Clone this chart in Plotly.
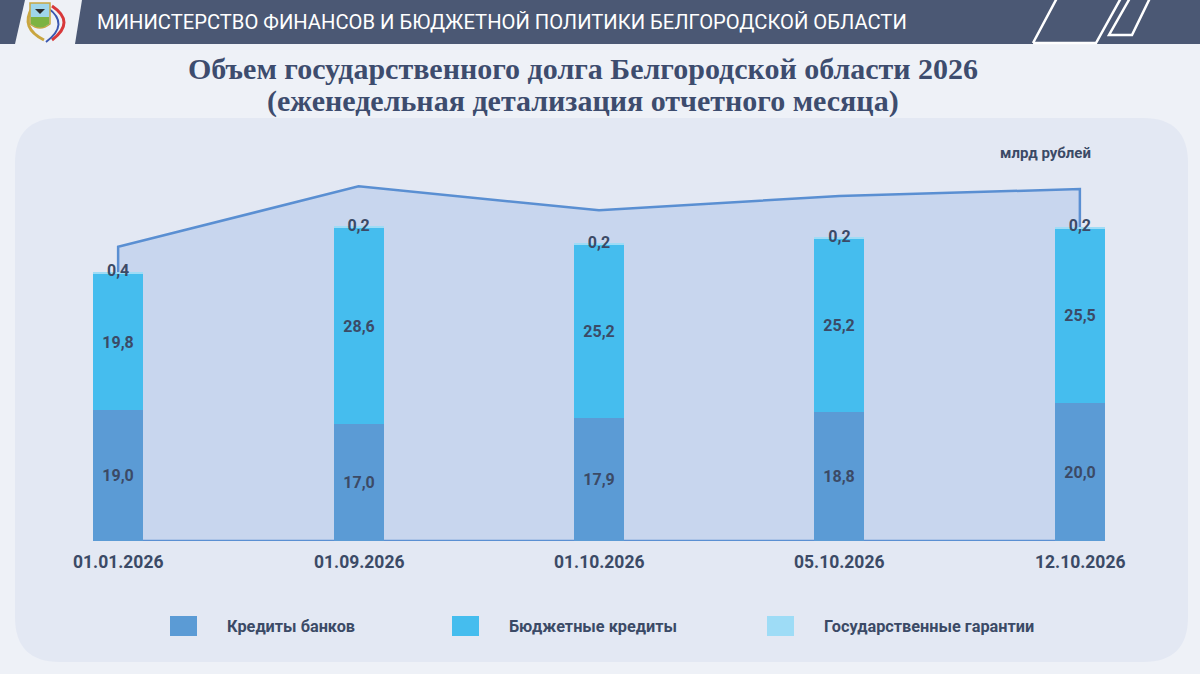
import plotly.graph_objects as go

# ---------------- data ----------------
dates = ["01.01.2026", "01.09.2026", "01.10.2026", "05.10.2026", "12.10.2026"]
bank_credits = [19.0, 17.0, 17.9, 18.8, 20.0]
budget_credits = [19.8, 28.6, 25.2, 25.2, 25.5]
state_guarantees = [0.4, 0.2, 0.2, 0.2, 0.2]
area_outline = [42.9, 51.7, 48.2, 50.3, 51.3]   # decorative background area
series_names = ["Кредиты банков", "Бюджетные кредиты", "Государственные гарантии"]
title_lines = ["Объем государственного долга Белгородской области 2026",
               "(еженедельная детализация отчетного месяца)"]

# ---------------- styles ----------------
W, H = 1200, 674
C_BANK = "#5b9bd5"
C_BUDGET = "#45bdee"
C_GUAR = "#9edcf6"
C_AREA = "#c8d6ee"
C_AREA_LINE = "#5a8fd2"
C_TEXT = "#3b4a66"
C_TITLE = "#3d4c6e"
C_PAGE = "#eef1f7"
C_PANEL = "#e3e8f3"
C_HEADER = "#4b5874"
LABEL_FONT = "Roboto, Arial, sans-serif"


def X(px):
    return px / W


def Y(py):
    return 1 - py / H


def fmt(v):
    return f"{v:.1f}".replace(".", ",")


idx = list(range(len(dates)))
totals = [a + b + c for a, b, c in zip(bank_credits, budget_credits, state_guarantees)]

fig = go.Figure()

# background area (drawn on base axes so that bars overlay it)
ax = [idx[0]] + idx + [idx[-1], idx[0]]
ay = [0] + area_outline + [0, 0]
fig.add_trace(go.Scatter(
    x=ax, y=ay, mode="lines", fill="toself", fillcolor=C_AREA,
    line=dict(color=C_AREA_LINE, width=2.5), hoverinfo="skip", showlegend=False,
    xaxis="x", yaxis="y",
))

bar_w = 0.208
for vals, col, name, show_text in [
    (bank_credits, C_BANK, series_names[0], True),
    (budget_credits, C_BUDGET, series_names[1], True),
    (state_guarantees, C_GUAR, series_names[2], False),
]:
    fig.add_trace(go.Bar(
        x=idx, y=vals, name=name, marker=dict(color=col, line=dict(width=0)),
        width=bar_w,
        text=[fmt(v) for v in vals] if show_text else None,
        textposition="inside" if show_text else "none",
        insidetextanchor="middle", textangle=0, constraintext="none",
        textfont=dict(family=LABEL_FONT, size=16, color=C_TEXT, weight="bold"),
        xaxis="x2", yaxis="y2", showlegend=False,
    ))

# guarantee labels at the top of each bar
fig.add_trace(go.Scatter(
    x=idx, y=totals, mode="text", text=[fmt(v) for v in state_guarantees],
    textposition="middle center",
    textfont=dict(family=LABEL_FONT, size=16, color=C_TEXT, weight="bold"),
    xaxis="x2", yaxis="y2", showlegend=False, cliponaxis=False, hoverinfo="skip",
))

x_dom = [X(46), X(1152)]
y_dom = [Y(541), Y(129.4)]
xr = [-0.3, 4.3]
yr = [0, 60]

shapes = []
# rounded panel
r = 45
x0, x1, y0, y1 = 15, 1188, 118, 662


def P(px, py):
    return f"{X(px):.5f},{Y(py):.5f}"


panel_path = (
    f"M {P(x0 + r, y0)} L {P(x1 - r, y0)} Q {P(x1, y0)} {P(x1, y0 + r)} "
    f"L {P(x1, y1 - r)} Q {P(x1, y1)} {P(x1 - r, y1)} "
    f"L {P(x0 + r, y1)} Q {P(x0, y1)} {P(x0, y1 - r)} "
    f"L {P(x0, y0 + r)} Q {P(x0, y0)} {P(x0 + r, y0)} Z"
)
shapes.append(dict(type="path", path=panel_path, xref="paper", yref="paper",
                   fillcolor=C_PANEL, line=dict(width=0), layer="below"))
# header bar
shapes.append(dict(type="rect", xref="paper", yref="paper", x0=0, x1=1, y0=Y(44), y1=1,
                   fillcolor=C_HEADER, line=dict(width=0), layer="below"))
# light logo block
shapes.append(dict(type="path", xref="paper", yref="paper",
                   path=f"M {P(25, 0)} L {P(82, 0)} L {P(75, 44)} L {P(15, 44)} Z",
                   fillcolor="#eef1f6", line=dict(width=0), layer="above"))
# simplified emblem: coloured arcs + shield
shapes.append(dict(type="path", xref="paper", yref="paper",
                   path=f"M {P(52, 6)} Q {P(76, 22)} {P(52, 40)}",
                   line=dict(color="#d8383a", width=3), layer="above"))
shapes.append(dict(type="path", xref="paper", yref="paper",
                   path=f"M {P(48, 8)} Q {P(70, 24)} {P(46, 42)}",
                   line=dict(color="#3a57b0", width=2), layer="above"))
shapes.append(dict(type="path", xref="paper", yref="paper",
                   path=f"M {P(32, 8)} Q {P(20, 28)} {P(44, 40)}",
                   line=dict(color="#c9a640", width=3), layer="above"))
shapes.append(dict(type="path", xref="paper", yref="paper",
                   path=f"M {P(30, 3)} L {P(50, 3)} L {P(50, 24)} Q {P(40, 32)} {P(30, 24)} Z",
                   fillcolor="#9fd6ea", line=dict(color="#c9a640", width=1.5), layer="above"))
shapes.append(dict(type="path", xref="paper", yref="paper",
                   path=f"M {P(31, 17)} L {P(49, 17)} L {P(49, 24)} Q {P(40, 31)} {P(31, 24)} Z",
                   fillcolor="#7cb342", line=dict(width=0), layer="above"))
shapes.append(dict(type="path", xref="paper", yref="paper",
                   path=f"M {P(35, 9)} L {P(45, 9)} L {P(40, 14)} Z",
                   fillcolor="#2b2b2b", line=dict(width=0), layer="above"))
# top-right decorative parallelograms
shapes.append(dict(type="path", xref="paper", yref="paper",
                   path=f"M {P(1033, 43)} L {P(1096, 43)} L {P(1121, -2)} M {P(1057, -2)} L {P(1033, 43)}",
                   line=dict(color="white", width=2.5), layer="above"))
shapes.append(dict(type="path", xref="paper", yref="paper",
                   path=f"M {P(1130, -2)} L {P(1109, 35)} L {P(1132, 35)} L {P(1150, -2)}",
                   line=dict(color="white", width=2.5), layer="above"))

annotations = []
annotations.append(dict(
    text="МИНИСТЕРСТВО ФИНАНСОВ И БЮДЖЕТНОЙ ПОЛИТИКИ БЕЛГОРОДСКОЙ ОБЛАСТИ",
    x=X(95), y=Y(22), xref="paper", yref="paper", xanchor="left", yanchor="middle",
    showarrow=False, font=dict(family="Roboto, Arial, sans-serif", size=20.2, color="white"),
))
for line, ly in zip(title_lines, [68, 101]):
    annotations.append(dict(
        text=line, x=X(583), y=Y(ly), xref="paper", yref="paper",
        xanchor="center", yanchor="middle", showarrow=False,
        font=dict(family="Liberation Serif, Times New Roman, serif", size=30,
                  color=C_TITLE, weight="bold"),
    ))
annotations.append(dict(
    text="млрд рублей", x=X(1045), y=Y(153), xref="paper", yref="paper",
    xanchor="center", yanchor="middle", showarrow=False,
    font=dict(family=LABEL_FONT, size=15, color=C_TEXT, weight="bold"),
))
for i, d in zip(idx, dates):
    annotations.append(dict(
        text=d, x=i, y=Y(562), xref="x2", yref="paper", xanchor="center", yanchor="middle",
        showarrow=False, font=dict(family=LABEL_FONT, size=17.5, color=C_TEXT, weight="bold"),
    ))

# legend (custom, built from series names and colours)
legend_sq_x = [170, 452, 767]
for name, col, sx in zip(series_names, [C_BANK, C_BUDGET, C_GUAR], legend_sq_x):
    shapes.append(dict(type="rect", xref="paper", yref="paper",
                       x0=X(sx), x1=X(sx + 27), y0=Y(636), y1=Y(616),
                       fillcolor=col, line=dict(width=0), layer="above"))
    annotations.append(dict(
        text=name, x=X(sx + 55), y=Y(626), xref="paper", yref="paper",
        xanchor="left", yanchor="middle", showarrow=False,
        font=dict(family=LABEL_FONT, size=16.3, color=C_TEXT, weight="bold"),
    ))

fig.update_layout(
    width=W, height=H, margin=dict(l=0, r=0, t=0, b=0),
    paper_bgcolor=C_PAGE, plot_bgcolor="rgba(0,0,0,0)",
    barmode="stack", bargap=0, showlegend=False,
    xaxis=dict(domain=x_dom, range=xr, visible=False, fixedrange=True),
    yaxis=dict(domain=y_dom, range=yr, visible=False, fixedrange=True),
    xaxis2=dict(domain=x_dom, range=xr, visible=False, overlaying="x", fixedrange=True),
    yaxis2=dict(domain=y_dom, range=yr, visible=False, overlaying="y", fixedrange=True),
    shapes=shapes, annotations=annotations,
)

fig.write_html("out.html")
